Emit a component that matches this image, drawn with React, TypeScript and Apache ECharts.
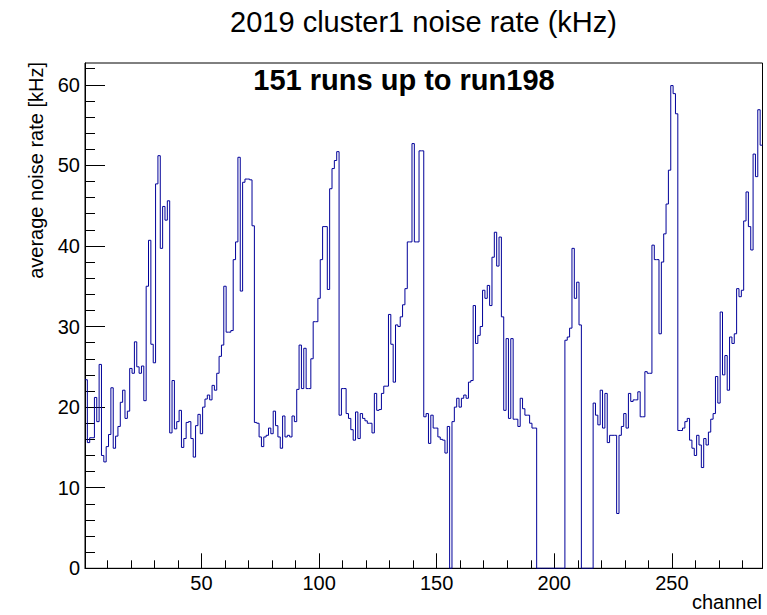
import React, { useEffect, useRef } from "react";
import * as echarts from "echarts";

// average noise rate [kHz] per channel (channels 1..288)
const noiseRate: number[] = [
  23.4, 15.6, 16.2, 16.2, 21.2, 18.2, 25.3, 14.0, 13.2, 15.1, 16.6, 22.4,
  14.9, 16.4, 17.6, 20.6, 22.1, 18.6, 19.5, 24.8, 24.2, 28.1, 25.0, 24.2,
  25.1, 20.8, 35.0, 40.7, 27.8, 25.5, 47.7, 51.2, 39.7, 44.9, 43.2, 45.6,
  16.8, 23.3, 17.3, 18.2, 19.6, 15.0, 16.1, 18.1, 18.2, 16.1, 13.8, 17.7,
  19.1, 16.7, 20.0, 21.0, 21.5, 20.9, 22.7, 22.1, 24.2, 26.3, 27.7, 35.0,
  29.3, 29.3, 29.5, 38.3, 40.5, 51.0, 34.4, 47.9, 48.3, 48.3, 48.2, 42.5,
  18.1, 18.0, 16.3, 15.1, 16.3, 16.5, 17.4, 16.7, 19.5, 17.7, 16.3, 14.9,
  18.9, 16.3, 16.5, 16.3, 18.9, 18.2, 22.2, 27.7, 22.3, 27.3, 22.3, 22.3,
  26.0, 30.6, 30.6, 33.5, 38.3, 42.4, 42.4, 34.6, 47.1, 49.6, 50.6, 51.7,
  19.0, 22.3, 22.3, 19.2, 18.6, 17.2, 15.9, 19.4, 16.1, 19.2, 18.6, 18.3,
  18.0, 18.0, 16.8, 21.7, 19.6, 19.7, 21.7, 22.6, 22.6, 31.5, 27.8, 23.1,
  30.2, 30.0, 31.2, 32.7, 34.7, 40.5, 40.5, 52.7, 40.5, 40.5, 51.8, 51.8,
  18.8, 19.2, 15.5, 19.0, 17.4, 17.4, 16.3, 16.0, 15.9, 14.3, 17.6, 0,
  18.2, 20.0, 21.1, 20.0, 21.1, 21.5, 21.1, 23.1, 23.3, 32.6, 27.9, 28.9,
  30.0, 34.5, 33.5, 35.1, 32.6, 38.6, 41.7, 37.5, 41.1, 31.2, 19.6, 28.5,
  18.6, 28.5, 18.5, 18.5, 17.6, 21.1, 19.8, 19.0, 19.0, 18.0, 17.4, 17.4,
  0, 0, 0, 0, 0, 0, 0, 0, 0, 0, 0, 0,
  28.3, 28.7, 29.8, 39.7, 33.5, 35.5, 30.2, 0, 0, 0, 0, 0,
  20.5, 19.0, 17.8, 22.1, 17.4, 21.7, 15.6, 16.5, 16.5, 16.5, 6.8, 16.5,
  17.6, 19.2, 17.4, 21.7, 20.7, 20.9, 20.9, 21.9, 18.8, 18.8, 24.4, 24.2,
  24.2, 40.1, 38.3, 38.3, 29.1, 38.0, 41.5, 45.2, 49.4, 59.9, 58.9, 56.4,
  17.1, 17.1, 17.4, 18.2, 18.6, 15.9, 14.9, 14.0, 16.5, 15.3, 12.5, 16.1,
  15.3, 16.9, 18.5, 19.2, 23.8, 20.5, 31.8, 24.0, 26.4, 22.1, 28.7, 27.9,
  29.1, 34.7, 33.7, 34.5, 43.1, 46.7, 42.4, 39.5, 51.4, 48.6, 56.9, 52.5,
];

const xMajorTicks: number[] = [50, 100, 150, 200, 250];
const xMinorTicks: number[] = [
  10, 20, 30, 40, 60, 70, 80, 90, 110, 120, 130, 140, 160, 170, 180, 190,
  210, 220, 230, 240, 260, 270, 280,
];
const yMajorTicks: number[] = [0, 10, 20, 30, 40, 50, 60];
const yMinorTicks: number[] = [
  2, 4, 6, 8, 12, 14, 16, 18, 22, 24, 26, 28, 32, 34, 36, 38, 42, 44, 46, 48,
  52, 54, 56, 58, 62,
];

const titleText = "2019 cluster1 noise rate (kHz)";
const noteText = "151 runs up to run198";
const xTitle = "channel";
const yTitle = "average noise rate [kHz]";

const X_MIN = 0.5;
const X_MAX = 288.5;
const Y_MAX = 62.7;

const FONT = "'Liberation Sans', Arial, Helvetica, sans-serif";

export default function App() {
  const ref = useRef<HTMLDivElement>(null);

  useEffect(() => {
    if (!ref.current) return;
    const chart = echarts.init(ref.current, undefined, { renderer: "svg" });

    const stepPoints: number[][] = [];
    noiseRate.forEach((v, i) => {
      const ch = i + 1;
      stepPoints.push([ch - 0.5, v], [ch + 0.5, v]);
    });

    const left = 85;
    const top = 63;
    const right = 762.5;
    const bottom = 568.3;

    chart.setOption({
      animation: false,
      grid: {
        left,
        top,
        width: right - left,
        height: bottom - top,
        show: true,
        borderColor: "#000",
        borderWidth: 1,
        backgroundColor: "transparent",
        containLabel: false,
      },
      xAxis: [
        {
          type: "value",
          min: X_MIN,
          max: X_MAX,
          position: "bottom",
          axisLine: { show: true, lineStyle: { color: "#000", width: 1 } },
          axisTick: {
            show: true,
            inside: true,
            length: 15,
            customValues: xMajorTicks,
            lineStyle: { color: "#000", width: 1 },
          },
          axisLabel: {
            show: true,
            customValues: xMajorTicks,
            margin: 5,
            color: "#000",
            fontSize: 20,
            fontFamily: FONT,
          },
          splitLine: { show: false },
        },
        {
          type: "value",
          min: X_MIN,
          max: X_MAX,
          position: "bottom",
          axisLine: { show: false },
          axisTick: {
            show: true,
            inside: true,
            length: 8,
            customValues: xMinorTicks,
            lineStyle: { color: "#000", width: 1 },
          },
          axisLabel: { show: false },
          splitLine: { show: false },
        },
      ],
      yAxis: [
        {
          type: "value",
          min: 0,
          max: Y_MAX,
          position: "left",
          axisLine: { show: true, lineStyle: { color: "#000", width: 1 } },
          axisTick: {
            show: true,
            inside: true,
            length: 20,
            customValues: yMajorTicks,
            lineStyle: { color: "#000", width: 1 },
          },
          axisLabel: {
            show: true,
            customValues: yMajorTicks,
            margin: 5,
            color: "#000",
            fontSize: 20,
            fontFamily: FONT,
          },
          splitLine: { show: false },
        },
        {
          type: "value",
          min: 0,
          max: Y_MAX,
          position: "left",
          axisLine: { show: false },
          axisTick: {
            show: true,
            inside: true,
            length: 10,
            customValues: yMinorTicks,
            lineStyle: { color: "#000", width: 1 },
          },
          axisLabel: { show: false },
          splitLine: { show: false },
        },
      ],
      series: [
        {
          type: "line",
          xAxisIndex: 0,
          yAxisIndex: 0,
          data: stepPoints,
          showSymbol: false,
          symbol: "none",
          silent: true,
          clip: true,
          lineStyle: { color: "#000099", width: 1 },
        },
      ],
      graphic: [
        {
          type: "text",
          x: 423.5,
          y: 22,
          style: {
            text: titleText,
            fill: "#000",
            font: `29px ${FONT}`,
            textAlign: "center",
            textVerticalAlign: "middle",
          },
        },
        {
          type: "text",
          x: 404,
          y: 80,
          style: {
            text: noteText,
            fill: "#000",
            font: `bold 29px ${FONT}`,
            textAlign: "center",
            textVerticalAlign: "middle",
          },
        },
        {
          type: "text",
          x: 36,
          y: 62,
          rotation: Math.PI / 2,
          style: {
            text: yTitle,
            fill: "#000",
            font: `20px ${FONT}`,
            textAlign: "right",
            textVerticalAlign: "middle",
          },
        },
        {
          type: "text",
          x: 762,
          y: 602,
          style: {
            text: xTitle,
            fill: "#000",
            font: `20px ${FONT}`,
            textAlign: "right",
            textVerticalAlign: "middle",
          },
        },
      ],
    });

    return () => chart.dispose();
  }, []);

  return (
    <div
      ref={ref}
      style={{ position: "fixed", left: 0, top: 0, width: 767, height: 615, background: "#fff" }}
    />
  );
}
